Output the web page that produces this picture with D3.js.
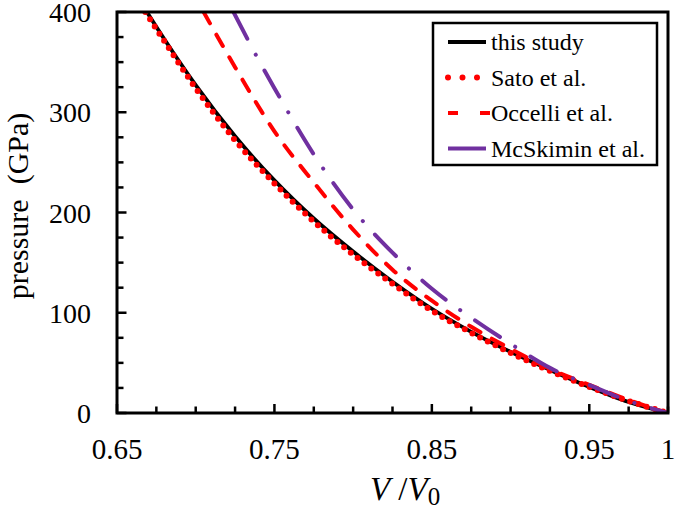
<!DOCTYPE html>
<html>
<head>
<meta charset="utf-8">
<script src="https://cdn.jsdelivr.net/npm/d3@7"></script>
<style>
  body { margin: 0; background: #fff; }
  svg text { font-family: "Liberation Serif", "Times New Roman", Times, serif; }
</style>
</head>
<body>
<svg width="685" height="513"></svg>
<script>
/* global d3 */
// values
let volThis = [0.669, 0.68, 0.70, 0.725, 0.75, 0.775, 0.80, 0.825, 0.85, 0.875, 0.90, 0.925, 0.95, 0.975, 1.0]
let presThis = [400, 373, 327, 276, 232, 194, 161, 131, 104, 81, 61, 43, 26, 11, 0]

let volSato = [0.668, 0.68, 0.70, 0.725, 0.75, 0.775, 0.80, 0.825, 0.85, 0.875, 0.90, 0.925, 0.95, 0.975, 1.0]
let presSato = [400, 371, 324, 272, 229, 191, 158, 129, 102, 80, 60, 42, 26, 12, 0]

let volOccelli = [0.705, 0.725, 0.75, 0.775, 0.80, 0.825, 0.85, 0.875, 0.90, 0.925, 0.95, 0.975, 1.0]
let presOccelli = [400, 345, 281, 230, 183, 143, 112, 86, 64, 44, 28, 13, 0]

let volMcSkimin = [0.724, 0.74, 0.75, 0.775, 0.80, 0.825, 0.85, 0.875, 0.90, 0.925, 0.95, 0.975, 1.0]
let presMcSkimin = [400, 352, 324, 258, 203, 160, 124, 95, 69, 45, 28, 12, 0]

let xTickLabels = [0.65, 0.75, 0.85, 0.95, 1]
let yTickLabels = [0, 100, 200, 300, 400]

let seriesNames = ['this study', 'Sato et al.', 'Occelli et al.', 'McSkimin et al.']

let series = [
  { name: seriesNames[0], v: volThis, p: presThis, color: '#000', width: 3.8, dash: null, cap: 'butt' },
  { name: seriesNames[1], v: volSato, p: presSato, color: '#ff0000', width: 6, dash: '0 8.6', cap: 'round' },
  { name: seriesNames[2], v: volOccelli, p: presOccelli, color: '#ff0000', width: 4, dash: '13 13', cap: 'round' },
  { name: seriesNames[3], v: volMcSkimin, p: presMcSkimin, color: '#7030a0', width: 4, dash: '30 18 0.1 18', cap: 'round' }
]

var svg = d3.select('svg')
let plotLeft = 117
let plotRight = 668
let plotTop = 12
let plotBottom = 413

var x = d3.scaleLinear().domain([0.65, 1.0]).range([plotLeft, plotRight])
var y = d3.scaleLinear().domain([0, 400]).range([plotBottom, plotTop])

svg.append('defs').append('clipPath').attr('id', 'plot')
  .append('rect')
  .attr('x', plotLeft).attr('y', plotTop)
  .attr('width', plotRight - plotLeft).attr('height', plotBottom - plotTop)

// minor / major ticks pointing inwards
let xMinor = d3.range(0.65, 1.0001, 0.025)
svg.append('g').selectAll('line')
  .data(xMinor)
  .enter().append('line')
    .attr('x1', d => x(d)).attr('x2', d => x(d))
    .attr('y1', plotBottom)
    .attr('y2', (d, i) => plotBottom - (i % 4 === 0 ? 9 : 6.5))
    .attr('stroke', '#000').attr('stroke-width', 2.5)

let yMinor = d3.range(0, 401, 25)
svg.append('g').selectAll('line')
  .data(yMinor)
  .enter().append('line')
    .attr('y1', d => y(d)).attr('y2', d => y(d))
    .attr('x1', plotLeft)
    .attr('x2', d => plotLeft + (d % 100 === 0 ? 9.5 : 6.5))
    .attr('stroke', '#000').attr('stroke-width', 2.5)

// curves
var line = d3.line()
  .x(d => x(d[0]))
  .y(d => y(d[1]))
  .curve(d3.curveMonotoneX)

svg.append('g')
    .attr('clip-path', 'url(#plot)')
  .selectAll('path')
  .data(series)
  .enter().append('path')
    .attr('d', s => line(s.v.map((v, i) => [v, s.p[i]])))
    .attr('fill', 'none')
    .attr('stroke', s => s.color)
    .attr('stroke-width', s => s.width)
    .attr('stroke-dasharray', s => s.dash)
    .attr('stroke-linecap', s => s.cap)

// frame
svg.append('rect')
  .attr('x', plotLeft).attr('y', plotTop)
  .attr('width', plotRight - plotLeft).attr('height', plotBottom - plotTop)
  .attr('fill', 'none')
  .attr('stroke', '#000')
  .attr('stroke-width', 3)

// tick labels
svg.append('g').selectAll('text')
  .data(xTickLabels)
  .enter().append('text')
    .attr('transform', d => 'translate(' + x(d) + ',459)')
    .attr('text-anchor', 'middle')
    .style('font-size', '29px')
    .text(d => d)

svg.append('g').selectAll('text')
  .data(yTickLabels)
  .enter().append('text')
    .attr('transform', d => 'translate(91,' + (y(d) + 10) + ')')
    .attr('text-anchor', 'end')
    .style('font-size', '28px')
    .text(d => d)

// axis titles
svg.append('text')
  .attr('transform', 'translate(28,206) rotate(-90)')
  .attr('text-anchor', 'middle')
  .style('font-size', '30px')
  .text('pressure\u00a0 (GPa)')

var xt = svg.append('text')
  .attr('transform', 'translate(405,500)')
  .attr('text-anchor', 'middle')
  .style('font-size', '33px')
xt.append('tspan').style('font-style', 'italic').text('V')
xt.append('tspan').text(' /')
xt.append('tspan').style('font-style', 'italic').text('V')
xt.append('tspan').attr('dy', 5).style('font-size', '25px').text('0')

// legend
let legX = 433
let legY = 23
svg.append('rect')
  .attr('x', legX).attr('y', legY)
  .attr('width', 224).attr('height', 142)
  .attr('fill', '#fff')
  .attr('stroke', '#000')
  .attr('stroke-width', 2.5)

let legendDash = [null, '0 14.5', '10 22', null]
var leg = svg.append('g').selectAll('g')
  .data(series)
  .enter().append('g')
    .attr('transform', (d, i) => 'translate(0,' + (42 + i * 35.5) + ')')

leg.append('line')
  .attr('x1', 448).attr('x2', (d, i) => i === 1 ? 478 : (i === 2 ? 490 : 486))
  .attr('y1', 0).attr('y2', 0)
  .attr('stroke', d => d.color)
  .attr('stroke-width', (d, i) => i === 1 ? 6 : 4)
  .attr('stroke-dasharray', (d, i) => legendDash[i])
  .attr('stroke-linecap', (d, i) => i === 1 ? 'round' : 'butt')

leg.append('text')
  .attr('transform', 'translate(491,8)')
  .style('font-size', '24px')
  .text(d => d.name)
</script>
</body>
</html>
